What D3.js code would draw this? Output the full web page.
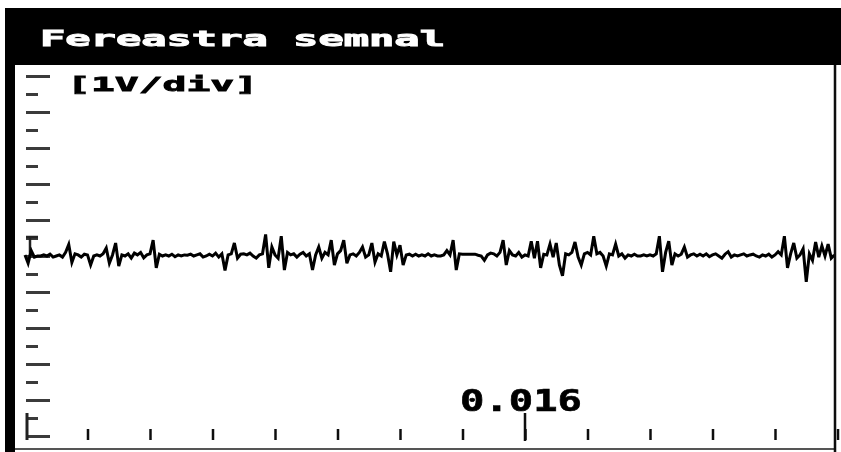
<!DOCTYPE html>
<html>
<head>
<meta charset="utf-8">
<script src="https://cdn.jsdelivr.net/npm/d3@7"></script>
<style>
  body { margin: 0; background: #fff; }
  svg { display: block; }
</style>
</head>
<body>
<div class="layout"></div>
<script>
var title = "Fereastra semnal";
var scaleLabel = "[1V/div]";
var timeLabel = "0.016";
var timeMark = 0.016;
var dt = 0.0001;               // sample spacing, s
var xTicks = [0.002, 0.004, 0.006, 0.008, 0.010, 0.012, 0.014, 0.016, 0.018, 0.020, 0.022, 0.024, 0.026];
var yMajor = [-5, -4, -3, -2, -1, 0, 1, 2, 3, 4, 5];
var yMinor = [-4.5, -3.5, -2.5, -1.5, -0.5, 0.5, 1.5, 2.5, 3.5, 4.5];

// signal, volts
var signal = [
  0.03, -0.2, 0.15, -0.03, 0.0, 0.0, 0.03, 0.0, 0.05, -0.03,
  0.0, 0.03, -0.03, 0.1, 0.32, -0.18, 0.06, 0.03, -0.03, 0.05,
  0.03, -0.25, 0.0, 0.03, 0.0, 0.06, 0.22, -0.2, 0.03, 0.36,
  -0.28, 0.03, 0.0, 0.06, -0.06, 0.08, 0.03, 0.1, -0.05, 0.03,
  0.06, 0.44, -0.33, 0.05, 0.0, 0.03, 0.0, 0.05, -0.02, 0.03,
  0.0, 0.03, 0.02, 0.05, 0.0, 0.03, 0.06, -0.03, 0.0, 0.05,
  0.0, 0.08, -0.03, 0.06, -0.4, 0.03, 0.06, 0.36, -0.06, 0.05,
  0.06, 0.03, 0.08, 0.0, -0.06, 0.03, 0.06, 0.6, -0.33, 0.25,
  0.03, -0.06, 0.55, -0.39, 0.1, 0.03, 0.06, -0.03, 0.05, 0.1,
  0.0, 0.06, -0.39, 0.03, 0.25, -0.06, 0.1, 0.03, 0.44, -0.25,
  0.06, 0.15, 0.44, -0.2, 0.03, 0.06, 0.0, 0.1, 0.25, -0.03,
  0.03, 0.36, -0.17, 0.06, 0.0, 0.4, 0.06, -0.44, 0.4, 0.03,
  0.3, -0.25, 0.03, 0.05, 0.0, 0.05, 0.0, 0.03, 0.0, 0.06,
  0.0, 0.03, 0.0, 0.0, 0.03, 0.15, 0.03, 0.44, -0.39, 0.06,
  0.05, 0.05, 0.05, 0.05, 0.05, 0.02, 0.0, -0.12, 0.03, 0.08,
  0.06, 0.0, 0.1, 0.44, -0.25, 0.15, 0.03, 0.0, 0.1, -0.03,
  0.03, 0.0, 0.41, -0.06, 0.41, -0.33, 0.05, 0.03, 0.33, -0.03,
  0.36, -0.25, -0.55, 0.06, 0.03, 0.1, 0.39, -0.03, -0.25, 0.06,
  0.1, 0.03, 0.55, 0.06, 0.1, 0.0, -0.28, 0.06, 0.03, 0.33,
  0.0, 0.06, -0.06, 0.03, 0.0, 0.05, 0.0, 0.0, 0.03, 0.0,
  0.03, 0.0, 0.06, 0.55, -0.44, 0.1, 0.41, -0.25, 0.06, 0.0,
  0.05, 0.25, -0.03, 0.03, 0.06, 0.0, 0.05, 0.0, 0.06, -0.02,
  0.03, 0.06, 0.0, -0.06, 0.05, 0.12, -0.03, 0.03, 0.0, 0.03,
  0.06, 0.0, 0.03, 0.05, 0.0, -0.03, 0.03, 0.0, 0.05, -0.03,
  0.03, 0.12, 0.03, 0.55, -0.33, 0.06, 0.36, -0.06, 0.03, 0.2,
  -0.72, 0.06, -0.12, 0.39, -0.03, 0.28, 0.0, 0.33, -0.06, 0.03
];

var width = 841, height = 452;

var x = d3.scaleLinear().domain([0, 0.026]).range([25, 837.5]);
var y = d3.scaleLinear().domain([-5, 5]).range([436, 76]);

var svg = d3.select(".layout").append("svg")
    .attr("width", width)
    .attr("height", height);

var defs = svg.append("defs");
defs.append("filter").attr("id", "soft")
  .append("feGaussianBlur").attr("stdDeviation", 0.55);
defs.append("clipPath").attr("id", "screen")
  .append("rect").attr("x", 15).attr("y", 65).attr("width", 819).attr("height", 384);

var g = svg.append("g").attr("filter", "url(#soft)");

// frame
g.append("rect").attr("x", 5).attr("y", 8).attr("width", 836).attr("height", 57).attr("fill", "#000");
g.append("rect").attr("x", 5).attr("y", 8).attr("width", 10).attr("height", 444).attr("fill", "#000");
g.append("line").attr("x1", 15).attr("x2", 835).attr("y1", 449).attr("y2", 449)
    .attr("stroke", "#555").attr("stroke-width", 2);
g.append("line").attr("x1", 835).attr("x2", 835).attr("y1", 65).attr("y2", 452)
    .attr("stroke", "#111").attr("stroke-width", 2.5);

g.append("text")
    .attr("x", 40).attr("y", 46)
    .attr("fill", "#fff")
    .attr("stroke", "#fff").attr("stroke-width", 0.9)
    .attr("font-family", "DejaVu Sans Mono")
    .attr("font-weight", "bold")
    .attr("font-size", 21)
    .attr("textLength", 405)
    .attr("lengthAdjust", "spacingAndGlyphs")
    .text(title);

// y ticks
var yAxisMajor = d3.axisRight(y).tickValues(yMajor).tickSize(24).tickFormat("");
var yAxisMinor = d3.axisRight(y).tickValues(yMinor).tickSize(12).tickFormat("");
[yAxisMajor, yAxisMinor].forEach(function(ax) {
  var a = g.append("g").attr("class", "y axis")
      .attr("transform", "translate(26,0)")
      .call(ax);
  a.select(".domain").remove();
  a.selectAll("line").attr("stroke", "#3a3a3a").attr("stroke-width", 3);
});

// x ticks
var xAxis = d3.axisTop(x).tickValues(xTicks).tickSize(11).tickFormat("");
var xa = g.append("g").attr("class", "x axis")
    .attr("transform", "translate(0,440)")
    .call(xAxis);
xa.select(".domain").remove();
xa.selectAll("line").attr("stroke", "#111").attr("stroke-width", 2.5);

g.append("line")
    .attr("x1", x(timeMark)).attr("x2", x(timeMark))
    .attr("y1", 441).attr("y2", 413)
    .attr("stroke", "#111").attr("stroke-width", 2.5);

// trigger / origin markers
g.append("path")
    .attr("d", "M26," + (y(0.5) - 1) + "H38M30," + (y(0.5) - 1) + "V" + y(0))
    .attr("fill", "none").attr("stroke", "#222").attr("stroke-width", 2.5);
g.append("line")
    .attr("x1", 27).attr("x2", 27).attr("y1", 413).attr("y2", 440)
    .attr("stroke", "#222").attr("stroke-width", 3);

g.append("text")
    .attr("x", 67).attr("y", 91)
    .attr("fill", "#000")
    .attr("stroke", "#000").attr("stroke-width", 0.8)
    .attr("font-family", "DejaVu Sans Mono")
    .attr("font-weight", "bold")
    .attr("font-size", 20)
    .attr("textLength", 191)
    .attr("lengthAdjust", "spacingAndGlyphs")
    .text(scaleLabel);

g.append("text")
    .attr("x", 460).attr("y", 411)
    .attr("fill", "#000")
    .attr("stroke", "#000").attr("stroke-width", 0.6)
    .attr("font-family", "DejaVu Sans Mono")
    .attr("font-weight", "bold")
    .attr("font-size", 31)
    .attr("textLength", 122)
    .attr("lengthAdjust", "spacingAndGlyphs")
    .text(timeLabel);

// signal trace
var line = d3.line()
    .x(function(d, i) { return x(i * dt); })
    .y(function(d) { return y(d); });

g.append("path")
    .datum(signal)
    .attr("clip-path", "url(#screen)")
    .attr("fill", "none")
    .attr("stroke", "#000")
    .attr("stroke-width", 3)
    .attr("d", line);
</script>
</body>
</html>
